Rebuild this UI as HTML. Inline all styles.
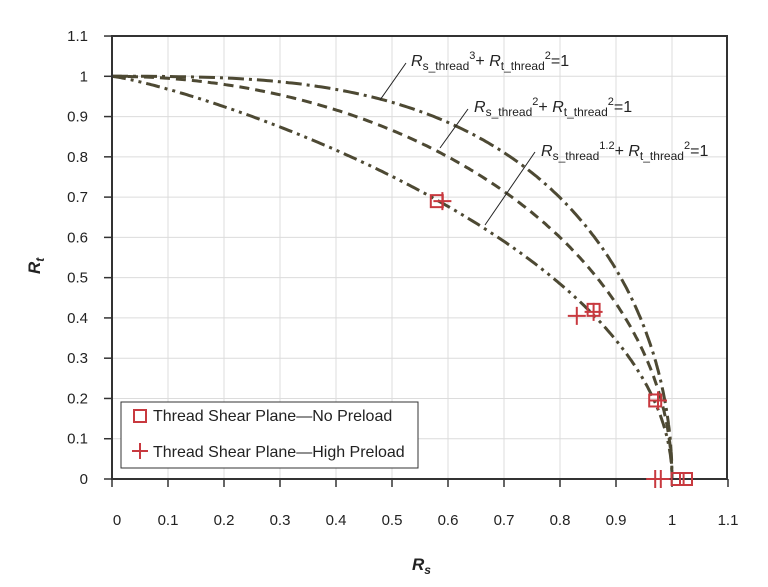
<!DOCTYPE html>
<html><head><meta charset="utf-8"><style>
body{margin:0;background:#fff;}
svg{display:block;font-family:"Liberation Sans",sans-serif;}
</style></head><body>
<svg id="s" width="768" height="587" viewBox="0 0 768 587" xmlns="http://www.w3.org/2000/svg">
<g id="grid" stroke="#dcdcdc" stroke-width="1"></g>
<g id="curves" fill="none" stroke="#4d4933" stroke-width="3"></g>
<rect x="112" y="36" width="615" height="443" fill="none" stroke="#333" stroke-width="2"/>
<g id="ticks" stroke="#333" stroke-width="1.5"></g>
<g id="labels" font-size="15" fill="#222"></g>
<g stroke="#222" stroke-width="1" fill="none">
<line x1="380" y1="100" x2="406" y2="63"/>
<line x1="440" y1="148" x2="468" y2="109"/>
<line x1="485" y1="225" x2="535" y2="152"/>
</g>
<g font-size="16" fill="#222" font-style="italic">
<text x="411" y="66">R<tspan font-size="12" font-style="normal" dy="4">s_thread</tspan><tspan font-size="11" font-style="normal" dy="-11">3</tspan><tspan font-style="normal" dy="7">+ </tspan>R<tspan font-size="12" font-style="normal" dy="4">t_thread</tspan><tspan font-size="11" font-style="normal" dy="-11">2</tspan><tspan font-style="normal" dy="7">=1</tspan></text>
<text x="474" y="112">R<tspan font-size="12" font-style="normal" dy="4">s_thread</tspan><tspan font-size="11" font-style="normal" dy="-11">2</tspan><tspan font-style="normal" dy="7">+ </tspan>R<tspan font-size="12" font-style="normal" dy="4">t_thread</tspan><tspan font-size="11" font-style="normal" dy="-11">2</tspan><tspan font-style="normal" dy="7">=1</tspan></text>
<text x="541" y="156">R<tspan font-size="12" font-style="normal" dy="4">s_thread</tspan><tspan font-size="11" font-style="normal" dy="-11">1.2</tspan><tspan font-style="normal" dy="7">+ </tspan>R<tspan font-size="12" font-style="normal" dy="4">t_thread</tspan><tspan font-size="11" font-style="normal" dy="-11">2</tspan><tspan font-style="normal" dy="7">=1</tspan></text>
</g>
<g id="pts" fill="none" stroke="#c8393f" stroke-width="2"></g>
<rect x="121" y="402" width="297" height="66" fill="#fff" stroke="#333" stroke-width="1"/>
<rect x="134" y="410" width="12" height="12" fill="none" stroke="#c8393f" stroke-width="2"/>
<path d="M132 451h16M140 443v16" stroke="#c8393f" stroke-width="2"/>
<text x="153" y="421" font-size="16" fill="#222">Thread Shear Plane—No Preload</text>
<text x="153" y="457" font-size="16" fill="#222">Thread Shear Plane—High Preload</text>
<text x="28" y="262" font-size="17" font-weight="bold" font-style="italic" fill="#222" transform="rotate(-90 40 262)">R<tspan font-size="12" dy="4">t</tspan></text>
<text x="412" y="570" font-size="17" font-weight="bold" font-style="italic" fill="#222">R<tspan font-size="12" dy="4">s</tspan></text>
</svg>
<script>
const X=v=>112+560*v, Y=v=>479-402.7*v, NS="http://www.w3.org/2000/svg";
function el(p,t,a,txt){const e=document.createElementNS(NS,t);for(const k in a)e.setAttribute(k,a[k]);if(txt!==undefined)e.textContent=txt;document.getElementById(p).appendChild(e);}
for(let i=1;i<=10;i++){el("grid","line",{x1:X(i/10),x2:X(i/10),y1:36,y2:479});el("grid","line",{x1:112,x2:727,y1:Y(i/10),y2:Y(i/10)});}
for(let i=0;i<=11;i++){const v=i/10,l=i==0?"0":i==10?"1":v.toFixed(1);
el("ticks","line",{x1:X(v),x2:X(v),y1:479,y2:487});el("ticks","line",{x1:104,x2:112,y1:Y(v),y2:Y(v)});
el("labels","text",{x:X(v)+(i==0?5:0),y:525,"text-anchor":"middle"},l);el("labels","text",{x:88,y:Y(v)+5,"text-anchor":"end"},l);}
const dashes={3:"16 5 3 5",2:"10 6",1.2:"14 5 3 5 3 5"};
[3,2,1.2].forEach(n=>{let d="";for(let i=0;i<=300;i++){const t=i/300*Math.PI/2;const x=Math.pow(Math.sin(t),2/n),y=Math.cos(t);d+=(i?"L":"M")+X(x).toFixed(1)+" "+Y(y).toFixed(1);}
el("curves","path",{d:d,"stroke-dasharray":dashes[n]});});
[[0.58,0.69],[0.86,0.42],[0.97,0.195],[1.01,0],[1.025,0]].forEach(p=>el("pts","rect",{x:X(p[0])-6,y:Y(p[1])-6,width:12,height:12}));
[[0.59,0.69],[0.86,0.415],[0.83,0.405],[0.975,0.195],[0.98,0],[0.97,0]].forEach(p=>el("pts","path",{d:`M${X(p[0])-9} ${Y(p[1])}h18M${X(p[0])} ${Y(p[1])-9}v18`}));
</script>
</body></html>
